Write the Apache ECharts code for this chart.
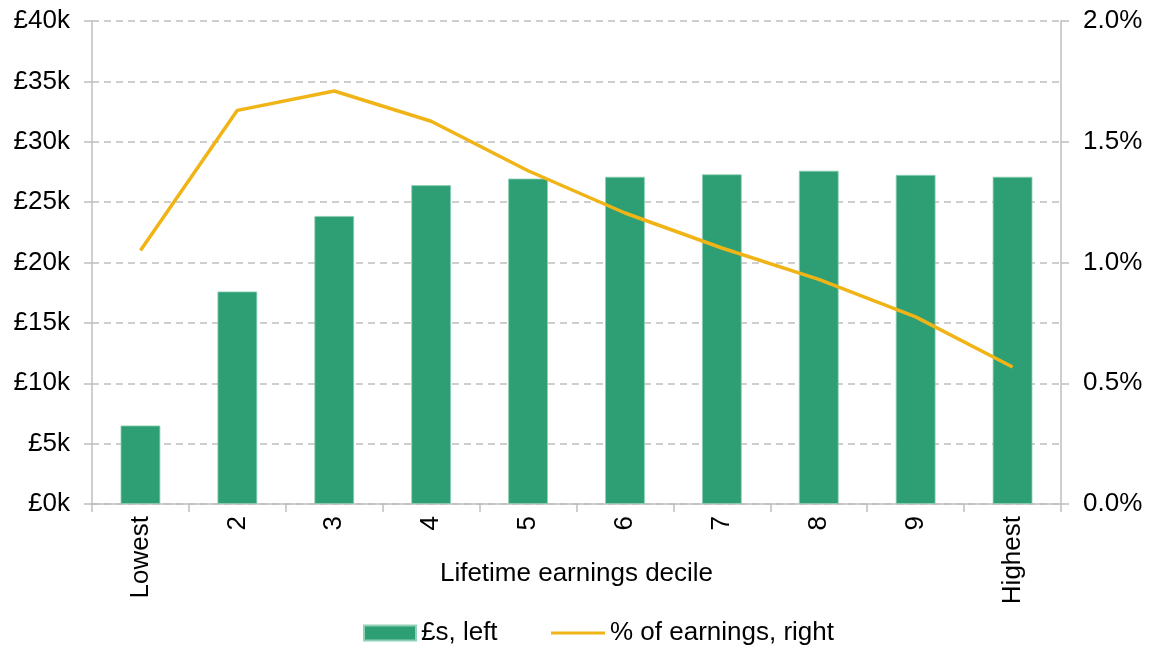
<!DOCTYPE html>
<html>
<head>
<meta charset="utf-8">
<script src="https://cdn.jsdelivr.net/npm/echarts@6/dist/echarts.min.js"></script>
<style>
  html, body { margin: 0; padding: 0; background: #fff; }
  #chart { width: 1150px; height: 648px; }
</style>
</head>
<body>
<div id="chart"></div>
<script>
// deciles of lifetime earnings
const categories = ['Lowest', '2', '3', '4', '5', '6', '7', '8', '9', 'Highest'];
// £ thousands (left axis)
const poundsK = [6.5, 17.6, 23.85, 26.4, 26.95, 27.1, 27.3, 27.6, 27.25, 27.1];
// % of earnings (right axis)
const pctEarnings = [1.05, 1.63, 1.71, 1.585, 1.38, 1.205, 1.06, 0.93, 0.775, 0.567];

const leftTicks = { min: 0, max: 40, interval: 5 };
const rightTicks = { min: 0, max: 2, interval: 0.5 };

const green = '#2e9e74';
const gold = '#f0b417';
const axisGrey = '#bfbfbf';
const textFont = { fontFamily: 'Liberation Sans, Arial, sans-serif', fontSize: 26, color: '#000' };

const chart = echarts.init(document.getElementById('chart'), null, { renderer: 'canvas' });

chart.setOption({
  animation: false,
  textStyle: textFont,
  grid: { left: 92, right: 89, top: 21, bottom: 144, containLabel: false },
  // two legends so the line key can be thin and the bar key a block
  legend: [
    {
      left: 363,
      top: 620,
      padding: 0,
      itemWidth: 52,
      itemHeight: 15,
      itemGap: 4,
      icon: 'rect',
      textStyle: { ...textFont, padding: [0, 0, 0, 0] },
      data: ['£s, left']
    },
    {
      left: 551,
      top: 620,
      padding: 0,
      itemWidth: 54,
      itemHeight: 3,
      icon: 'rect',
      textStyle: { ...textFont, padding: [0, 0, 0, 0] },
      data: ['% of earnings, right']
    }
  ],
  xAxis: {
    type: 'category',
    data: categories,
    name: 'Lifetime earnings decile',
    nameLocation: 'middle',
    nameGap: 57,
    nameMoveOverlap: false,
    nameTextStyle: textFont,
    axisLine: { lineStyle: { color: axisGrey, width: 1.5 } },
    axisTick: { show: true, length: 8, lineStyle: { color: axisGrey, width: 1.5 } },
    axisLabel: { rotate: 90, margin: 12, ...textFont }
  },
  yAxis: [
    {
      type: 'value',
      ...leftTicks,
      position: 'left',
      axisLine: { show: true, lineStyle: { color: axisGrey, width: 1.5 } },
      axisTick: { show: true, length: 8, lineStyle: { color: axisGrey, width: 1.5 } },
      axisLabel: { margin: 22, formatter: v => '£' + v + 'k', ...textFont },
      splitLine: { show: true, lineStyle: { color: axisGrey, width: 1.5, type: [7, 5] } }
    },
    {
      type: 'value',
      ...rightTicks,
      position: 'right',
      axisLine: { show: true, lineStyle: { color: axisGrey, width: 1.5 } },
      axisTick: { show: true, length: 8, lineStyle: { color: axisGrey, width: 1.5 } },
      axisLabel: { margin: 22, formatter: v => v.toFixed(1) + '%', ...textFont },
      splitLine: { show: false }
    }
  ],
  series: [
    {
      name: '£s, left',
      type: 'bar',
      yAxisIndex: 0,
      data: poundsK,
      barWidth: '41%',
      itemStyle: { color: green, borderColor: '#8fd1b6', borderWidth: 0.8 }
    },
    {
      name: '% of earnings, right',
      type: 'line',
      yAxisIndex: 1,
      data: pctEarnings,
      symbol: 'none',
      lineStyle: { color: gold, width: 3.5 },
      itemStyle: { color: gold }
    }
  ]
});
</script>
</body>
</html>
